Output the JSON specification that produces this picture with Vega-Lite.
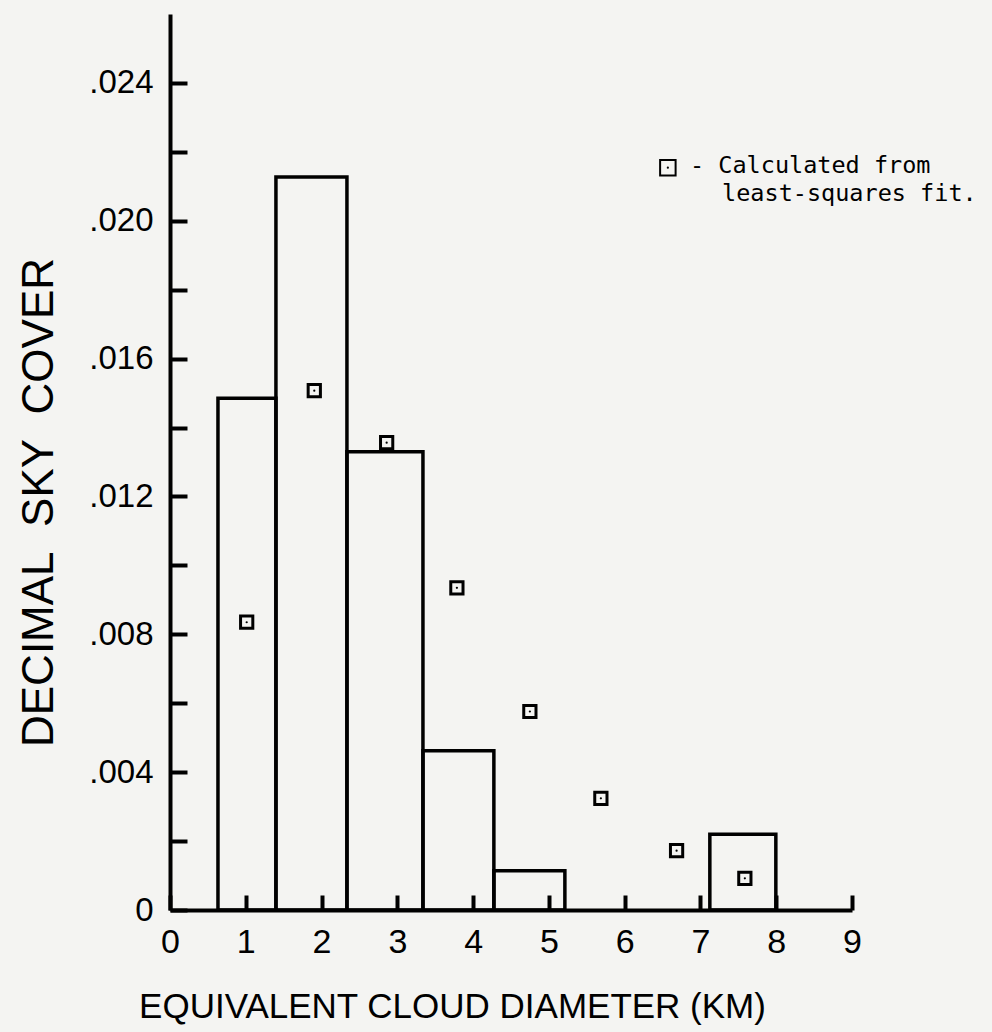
{
  "$schema": "https://vega.github.io/schema/vega-lite/v6.json",
  "autosize": "none",
  "width": 682,
  "height": 896,
  "padding": {"left": 170, "top": 14, "right": 140, "bottom": 122},
  "background": "#f4f4f2",
  "config": {
    "view": {"stroke": null},
    "axis": {
      "domainColor": "black",
      "domainWidth": 4,
      "tickColor": "black",
      "tickWidth": 4,
      "labelFont": "Liberation Sans",
      "labelColor": "black",
      "titleFont": "Liberation Sans",
      "titleColor": "black",
      "titleFontWeight": "normal",
      "grid": false
    }
  },
  "datasets": {
    "bars": [
      {"x0": 0.633, "x1": 1.398, "cover": 0.01485},
      {"x0": 1.398, "x1": 2.335, "cover": 0.02127},
      {"x0": 2.335, "x1": 3.338, "cover": 0.0133},
      {"x0": 3.338, "x1": 4.274, "cover": 0.00462},
      {"x0": 4.274, "x1": 5.211, "cover": 0.00114},
      {"x0": 7.124, "x1": 7.995, "cover": 0.0022}
    ],
    "fit": [
      {"d": 1.012, "cover": 0.00835},
      {"d": 1.904, "cover": 0.01507},
      {"d": 2.859, "cover": 0.01356},
      {"d": 3.786, "cover": 0.00935},
      {"d": 4.749, "cover": 0.00576},
      {"d": 5.686, "cover": 0.00324},
      {"d": 6.685, "cover": 0.00172},
      {"d": 7.586, "cover": 0.00092}
    ],
    "legendSym": [{"d": 6.57, "cover": 0.02154}],
    "legendText": [
      {"d": 6.862, "cover": 0.0216, "label": "- Calculated from"},
      {"d": 7.285, "cover": 0.02078, "label": "least-squares fit."}
    ]
  },
  "layer": [
    {
      "data": {"name": "bars"},
      "mark": {"type": "rect", "fill": null, "stroke": "black", "strokeWidth": 3.5},
      "encoding": {
        "x": {
          "field": "x0", "type": "quantitative",
          "scale": {"domain": [0, 9], "nice": false},
          "axis": {
            "values": [0, 1, 2, 3, 4, 5, 6, 7, 8, 9],
            "format": "d",
            "labelFlush": false,
            "tickSize": -15,
            "labelPadding": 30,
            "labelFontSize": 34,
            "title": "EQUIVALENT CLOUD DIAMETER (KM)",
            "titleFontSize": 35,
            "titleAlign": "center",
            "titleBaseline": "alphabetic",
            "titleX": 282,
            "titleY": 107
          }
        },
        "x2": {"field": "x1"},
        "y": {
          "field": "cover", "type": "quantitative",
          "scale": {"domain": [0, 0.026], "nice": false},
          "axis": {
            "values": [0, 0.002, 0.004, 0.006, 0.008, 0.01, 0.012, 0.014, 0.016, 0.018, 0.02, 0.022, 0.024],
            "labelExpr": "round(datum.value*1000) % 4 == 0 ? (datum.value == 0 ? '0' : replace(format(datum.value, '.3f'), '0.', '.')) : ''",
            "labelFlush": false,
            "tickSize": -17,
            "labelPadding": 34,
            "labelFontSize": 33,
            "title": "DECIMAL\u00a0\u00a0SKY\u00a0\u00a0COVER",
            "titleFontSize": 44,
            "titleAngle": -90,
            "titleAlign": "center",
            "titleBaseline": "alphabetic",
            "titleX": -118,
            "titleY": 488
          }
        },
        "y2": {"datum": 0}
      }
    },
    {
      "data": {"name": "fit"},
      "mark": {"type": "point", "shape": "square", "filled": false, "stroke": "black", "strokeWidth": 3, "size": 150, "opacity": 1},
      "encoding": {
        "x": {"field": "d", "type": "quantitative"},
        "y": {"field": "cover", "type": "quantitative"}
      }
    },
    {
      "data": {"name": "fit"},
      "mark": {"type": "point", "shape": "circle", "filled": true, "color": "black", "size": 5, "opacity": 1},
      "encoding": {
        "x": {"field": "d", "type": "quantitative"},
        "y": {"field": "cover", "type": "quantitative"}
      }
    },
    {
      "data": {"name": "legendSym"},
      "mark": {"type": "point", "shape": "square", "filled": false, "stroke": "black", "strokeWidth": 2, "size": 240, "opacity": 1},
      "encoding": {
        "x": {"field": "d", "type": "quantitative"},
        "y": {"field": "cover", "type": "quantitative"}
      }
    },
    {
      "data": {"name": "legendSym"},
      "mark": {"type": "point", "shape": "circle", "filled": true, "color": "black", "size": 5, "opacity": 1},
      "encoding": {
        "x": {"field": "d", "type": "quantitative"},
        "y": {"field": "cover", "type": "quantitative"}
      }
    },
    {
      "data": {"name": "legendText"},
      "mark": {"type": "text", "align": "left", "baseline": "middle", "font": "DejaVu Sans Mono", "fontSize": 23.5, "color": "black"},
      "encoding": {
        "x": {"field": "d", "type": "quantitative"},
        "y": {"field": "cover", "type": "quantitative"},
        "text": {"field": "label"}
      }
    }
  ]
}
